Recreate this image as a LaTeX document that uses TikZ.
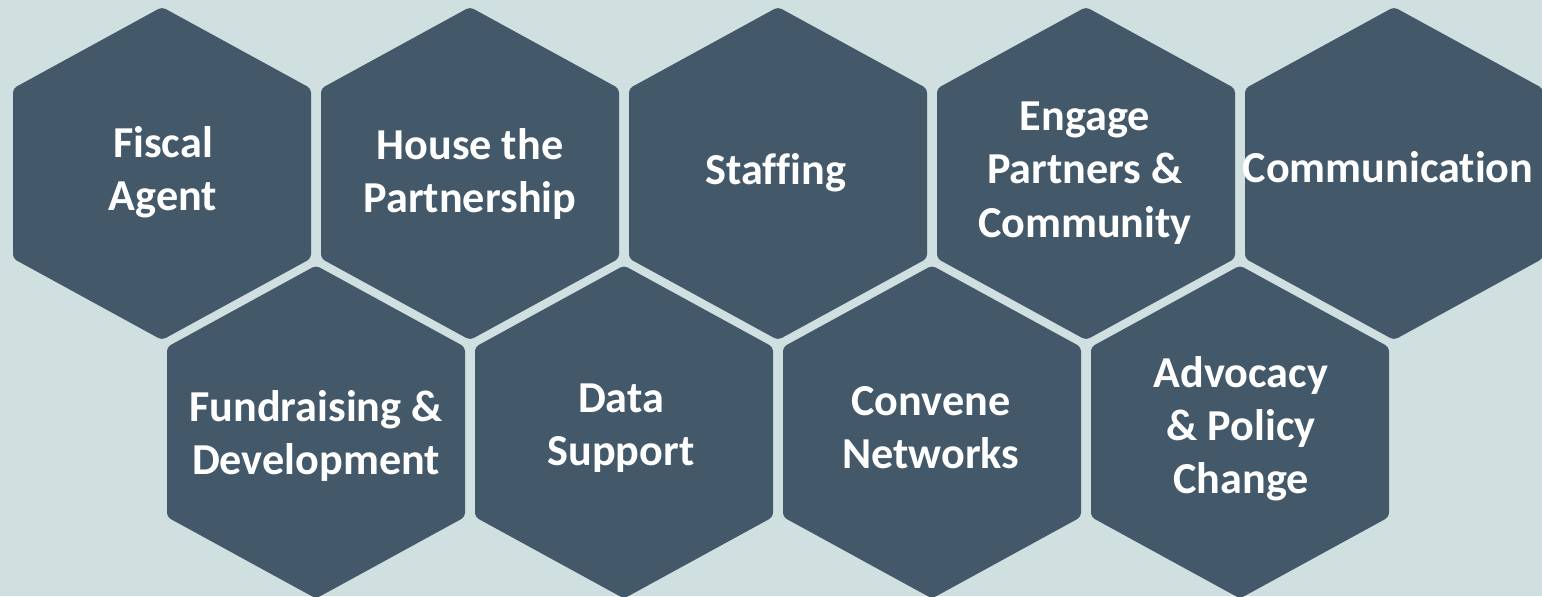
\documentclass[tikz,border=0pt]{standalone}
\usepackage{fontspec}
\setmainfont{Carlito}[RawFeature={-liga;-clig}]
\definecolor{bgc}{RGB}{208,223,223}
\definecolor{hexc}{RGB}{67,89,106}
\tikzset{
  hexfill/.style={fill=hexc, rounded corners=2pt},
  hexlabel/.style={text=white, font=\fontsize{22.1pt}{26.6pt}\selectfont\bfseries, align=center, inner sep=0pt},
}
\newcommand{\hexshape}[2]{%
  \path[hexfill] (#1,#2) ++(0,-166.5) -- ++(149,81.5) -- ++(0,170) -- ++(-149,81.5) -- ++(-149,-81.5) -- ++(0,-170) -- cycle;}
\begin{document}
\begin{tikzpicture}[x=0.5pt,y=-0.5pt]
\fill[bgc] (0,0) rectangle (1542,596);
\useasboundingbox (0,0) rectangle (1542,596);
% top row
\hexshape{162}{173.5}
\hexshape{470}{173.5}
\hexshape{778}{173.5}
\hexshape{1086}{173.5}
\hexshape{1394}{173.5}
% bottom row
\hexshape{316}{432}
\hexshape{624}{432}
\hexshape{932}{432}
\hexshape{1240}{432}
% labels
\node[hexlabel] (fiscal) at (163,172) {Fiscal\\Agent};
\node[hexlabel] (house) at (470,174) {House the\\Partnership};
\node[hexlabel] (staff) at (776,173) {Staffing};
\node[hexlabel] (engage) at (1085,173) {Engage\\Partners \&\\Community};
\node[hexlabel] (comm) at (1388,167) {Communication};
\node[hexlabel] (fund) at (316,436) {Fundraising \&\\Development};
\node[hexlabel] (data) at (621,428) {Data\\Support};
\node[hexlabel] (conv) at (931,428) {Convene\\Networks};
\node[hexlabel] (adv) at (1241,429) {Advocacy\\\& Policy\\Change};
\end{tikzpicture}
\end{document}
